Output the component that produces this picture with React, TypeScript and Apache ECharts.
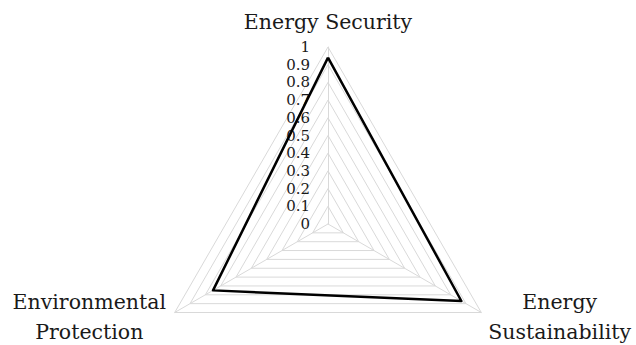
import React, { useEffect, useRef } from "react";
import * as echarts from "echarts";

const indicators = ["Energy Security", "Environmental\nProtection", "Energy\nSustainability"];
const values = [0.94, 0.75, 0.87];
const maxValue = 1;

export default function App() {
  const ref = useRef<HTMLDivElement>(null);
  useEffect(() => {
    document.body.style.margin = "0";
    const chart = echarts.init(ref.current!, null, { renderer: "svg" });
    const font = "DejaVu Serif";
    chart.setOption({
      animation: false,
      backgroundColor: "#ffffff",
      radar: {
        center: [328, 224],
        radius: 177,
        startAngle: 90,
        splitNumber: 10,
        shape: "polygon",
        axisName: {
          color: "#1a1a1a",
          fontFamily: font,
          fontSize: 20.5,
          formatter: (name: string) => {
            if (name.indexOf("\n") < 0) return "{t|" + name + "}";
            const tag = name.startsWith("Environmental") ? "l" : "r";
            return name
              .split("\n")
              .map((s) => "{" + tag + "|" + s + "}")
              .join("\n");
          },
          rich: {
            t: { fontFamily: font, fontSize: 20.5, color: "#1a1a1a", lineHeight: 22, padding: [0, 0, 7, 0] },
            l: { fontFamily: font, fontSize: 20.5, color: "#1a1a1a", lineHeight: 30, width: 157, align: "center" },
            r: { fontFamily: font, fontSize: 20.5, color: "#1a1a1a", lineHeight: 30, width: 143, align: "center" },
          },
        },
        nameGap: 8,
        splitArea: { show: false },
        splitLine: { lineStyle: { color: "#d9d9d9", width: 1 } },
        axisLine: { lineStyle: { color: "#d9d9d9", width: 1 } },
        axisTick: { show: false },
        axisLabel: { show: false },
        indicator: indicators.map((name, i) => ({
          name,
          min: 0,
          max: maxValue,
          axisLabel:
            i === 0
              ? {
                  show: true,
                  color: "#1a1a1a",
                  fontFamily: font,
                  fontSize: 15,
                  margin: 18,
                  formatter: (v: number) => String(Math.round(v * 10) / 10),
                }
              : { show: false },
        })),
      },
      series: [
        {
          type: "radar",
          symbol: "none",
          lineStyle: { color: "#000000", width: 2.5 },
          data: [{ value: values }],
        },
      ],
    });
    return () => chart.dispose();
  }, []);
  return <div ref={ref} style={{ width: 636, height: 345 }} />;
}
